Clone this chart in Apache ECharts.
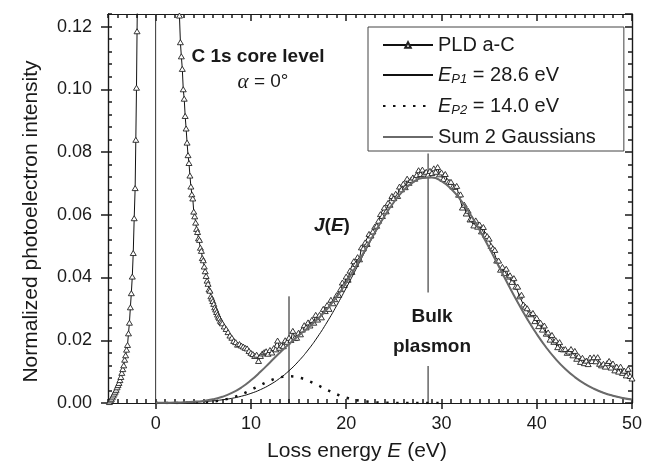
<!DOCTYPE html>
<html><head><meta charset="utf-8">
<script src="https://cdn.jsdelivr.net/npm/echarts@6/dist/echarts.min.js"></script>
<style>html,body{margin:0;padding:0;background:#fff}#c{width:645px;height:475px}</style>
</head><body><div id="c"></div>
<script>
// ---- axis ticks ----
const xMajorTicks = [0, 10, 20, 30, 40, 50];
const xRange = [-5, 50];
const yRange = [0, 0.124];

// ---- measured spectrum PLD a-C: [loss energy (eV), normalized intensity] ----
const pldElasticSide = [
  [-4.85,0.0003],[-4.75,0.0008],[-4.65,0.0012],[-4.55,0.0018],[-4.45,0.0024],[-4.35,0.0030],
  [-4.25,0.0036],[-4.15,0.0042],[-4.05,0.0050],[-3.95,0.0057],[-3.85,0.0064],[-3.75,0.0073],
  [-3.65,0.0083],[-3.55,0.0096],[-3.45,0.0108],[-3.35,0.0120],[-3.25,0.0138],[-3.15,0.0152],
  [-3.05,0.0170],[-2.95,0.0185],[-2.85,0.0222],[-2.75,0.0256],[-2.65,0.0305],[-2.55,0.0350],
  [-2.45,0.0403],[-2.35,0.0478],[-2.25,0.0589],[-2.15,0.0685],[-2.08,0.0839],[-2.01,0.1005],
  [-1.95,0.1185],[-1.88,0.1380]
];
const pldLossSide = [
  [2.4,0.1310],[2.5,0.1235],[2.6,0.1150],[2.7,0.1105],[2.8,0.1065],[2.9,0.1000],[3.0,0.0970],
  [3.1,0.0915],[3.2,0.0875],[3.3,0.0830],[3.4,0.0790],[3.5,0.0765],[3.6,0.0725],[3.7,0.0690],
  [3.8,0.0665],[3.9,0.0652],[4.0,0.0610],[4.1,0.0595],[4.2,0.0575],[4.3,0.0555],[4.4,0.0545],
  [4.5,0.0525],[4.6,0.0520],[4.7,0.0495],[4.8,0.0485],[4.9,0.0462],[5.0,0.0455],[5.1,0.0435],
  [5.2,0.0420],[5.3,0.0405],[5.4,0.0390],[5.5,0.0380],[5.6,0.0362],[5.7,0.0358],[5.8,0.0340],
  [5.9,0.0333],[6.0,0.0325],[6.1,0.0316],[6.2,0.0305],[6.3,0.0298],[6.4,0.0290],[6.5,0.0282],
  [6.6,0.0275],[6.7,0.0270],[6.8,0.0262],[6.9,0.0258],[7.0,0.0254],
  [7.2,0.0244],[7.4,0.0236],[7.6,0.0226],[7.8,0.0215],[8.0,0.0208],[8.2,0.0198],[8.4,0.0194],
  [8.6,0.0186],[8.8,0.0188],[9.0,0.0183],[9.2,0.0180],[9.4,0.0176],[9.6,0.0174],[9.8,0.0166],
  [10.0,0.0160],[10.2,0.0156],[10.4,0.0150],[10.6,0.0154],[10.8,0.0134],[11.0,0.0150],[11.2,0.0158],
  [11.4,0.0162],[11.6,0.0165],[11.8,0.0157],
  [12.0,0.0169],[12.2,0.0161],[12.4,0.0175],[12.6,0.0171],[12.8,0.0199],[13.0,0.0176],[13.2,0.0184],
  [13.4,0.0181],[13.6,0.0200],[13.8,0.0195],[14.0,0.0208],[14.2,0.0201],[14.4,0.0230],[14.6,0.0207],
  [14.8,0.0208],[15.0,0.0224],[15.2,0.0219],[15.4,0.0234],[15.6,0.0248],[15.8,0.0241],[16.0,0.0257],
  [16.2,0.0247],[16.4,0.0265],[16.6,0.0256],[16.8,0.0281],[17.0,0.0266],[17.2,0.0281],[17.4,0.0273],
  [17.6,0.0300],[17.8,0.0293],[18.0,0.0312],[18.2,0.0300],[18.4,0.0329],[18.6,0.0318],[18.8,0.0331],
  [19.0,0.0344],[19.2,0.0345],[19.4,0.0363],[19.6,0.0384],[19.8,0.0376],[20.0,0.0403],[20.2,0.0393],
  [20.4,0.0422],[20.6,0.0418],[20.8,0.0452],[21.0,0.0443],[21.2,0.0465],[21.4,0.0458],[21.6,0.0496],
  [21.8,0.0493],[22.0,0.0512],[22.2,0.0507],[22.4,0.0539],[22.6,0.0534],[22.8,0.0547],[23.0,0.0562],
  [23.2,0.0565],[23.4,0.0581],[23.6,0.0602],[23.8,0.0596],[24.0,0.0623],[24.2,0.0611],[24.4,0.0638],
  [24.6,0.0632],[24.8,0.0660],[25.0,0.0653],[25.2,0.0667],[25.4,0.0660],[25.6,0.0690],[25.8,0.0681],
  [26.0,0.0699],[26.2,0.0688],[26.4,0.0715],[26.6,0.0702],[26.8,0.0711],[27.0,0.0719],[27.2,0.0715],
  [27.4,0.0727],[27.6,0.0742],[27.8,0.0730],[28.0,0.0744],[28.2,0.0731],[28.4,0.0737],[28.6,0.0728],
  [28.8,0.0740],[29.0,0.0733],[29.2,0.0748],[29.4,0.0737],[29.6,0.0752],[29.8,0.0729],[30.0,0.0735],
  [30.2,0.0714],[30.4,0.0730],[30.6,0.0708],[30.8,0.0705],[31.0,0.0705],[31.2,0.0690],[31.4,0.0689],
  [31.6,0.0692],[31.8,0.0664],[32.0,0.0665],[32.2,0.0623],[32.4,0.0632],[32.6,0.0604],[32.8,0.0613],
  [33.0,0.0585],[33.2,0.0587],[33.4,0.0566],[33.6,0.0582],[33.8,0.0562],[34.0,0.0569],[34.2,0.0547],
  [34.4,0.0561],[34.6,0.0537],[34.8,0.0532],[35.0,0.0524],[35.2,0.0501],[35.4,0.0493],[35.6,0.0488],
  [35.8,0.0454],[36.0,0.0454],[36.2,0.0425],[36.4,0.0434],[36.6,0.0414],[36.8,0.0428],[37.0,0.0403],
  [37.2,0.0407],[37.4,0.0386],[37.6,0.0398],[37.8,0.0371],[38.0,0.0371],[38.2,0.0340],[38.4,0.0345],
  [38.6,0.0314],[38.8,0.0307],[39.0,0.0302],[39.2,0.0285],[39.4,0.0283],[39.6,0.0287],[39.8,0.0261],
  [40.0,0.0271],[40.2,0.0245],[40.4,0.0256],[40.6,0.0234],[40.8,0.0247],[41.0,0.0221],[41.2,0.0225],
  [41.4,0.0202],[41.6,0.0217],[41.8,0.0195],[42.0,0.0200],[42.2,0.0178],[42.4,0.0194],[42.6,0.0172],
  [42.8,0.0171],[43.0,0.0172],[43.2,0.0160],[43.4,0.0164],[43.6,0.0172],[43.8,0.0152],[44.0,0.0166],
  [44.2,0.0141],[44.4,0.0149],[44.6,0.0131],[44.8,0.0144],[45.0,0.0127],[45.2,0.0135],[45.4,0.0124],
  [45.6,0.0145],[45.8,0.0134],[46.0,0.0146],[46.2,0.0133],[46.4,0.0146],[46.6,0.0125],[46.8,0.0120],
  [47.0,0.0125],[47.2,0.0116],[47.4,0.0127],[47.6,0.0134],[47.8,0.0113],[48.0,0.0126],[48.2,0.0104],
  [48.4,0.0116],[48.6,0.0100],[48.8,0.0116],[49.0,0.0096],[49.2,0.0103],[49.4,0.0088],[49.6,0.0109],
  [49.8,0.0086],[50.0,0.0078]
];

// ---- fitted Gaussians ----
const fitE = [0,1,2,3,4,5,6,7,8,9,10,11,12,13,14,15,16,17,18,19,20,21,22,23,24,25,26,27,28,29,30,
  31,32,33,34,35,36,37,38,39,40,41,42,43,44,45,46,47,48,49,50];
const ep1Fit = [0.00004,0.00007,0.00011,0.00018,0.00029,0.00045,0.00068,0.00102,0.00149,0.00216,
  0.00306,0.00426,0.00582,0.00781,0.01028,0.01331,0.01690,0.02107,0.02581,0.03104,0.03665,0.04249,
  0.04838,0.05407,0.05935,0.06397,0.06769,0.07034,0.07176,0.07190,0.07072,0.06831,0.06479,0.06033,
  0.05517,0.04953,0.04367,0.03780,0.03213,0.02682,0.02198,0.01769,0.01397,0.01084,0.00826,0.00618,
  0.00454,0.00327,0.00232,0.00161,0.00110];
const ep2E = [0,1,2,3,4,5,6,7,8,9,10,11,12,13,14,15,16,17,18,19,20,21,22,23,24,25,26,27,28,29,30];
const ep2Fit = [0,0,0.00001,0.00004,0.00010,0.00023,0.00049,0.00095,0.00170,0.00278,0.00416,
  0.00569,0.00711,0.00813,0.00850,0.00813,0.00711,0.00569,0.00416,0.00278,0.00170,0.00095,0.00049,
  0.00023,0.00010,0.00004,0.00001,0,0,0,0];
const sumFit = [0.00004,0.00007,0.00013,0.00022,0.00039,0.00067,0.00117,0.00197,0.00320,0.00494,
  0.00722,0.00995,0.01293,0.01594,0.01878,0.02143,0.02401,0.02676,0.02997,0.03382,0.03835,0.04345,
  0.04887,0.05430,0.05945,0.06400,0.06770,0.07034,0.07176,0.07190,0.07072,0.06831,0.06479,0.06033,
  0.05517,0.04953,0.04367,0.03780,0.03213,0.02682,0.02198,0.01769,0.01397,0.01084,0.00826,0.00618,
  0.00454,0.00327,0.00232,0.00161,0.00110];

// ---- vertical marker lines [E, intensity] ----
const zeroLossLine = [[0, 0], [0, 0.124]];
const ep2Line = [[14, 0], [14, 0.034]];
const plasmonLineLow = [[28.6, 0], [28.6, 0.0118]];
const plasmonLineHigh = [[28.6, 0.0352], [28.6, 0.0795]];

const FONT = 'Liberation Sans, Arial, sans-serif';
const TXT = '#1a1a1a';
const AX = '#1a1a1a';
const zip = (xs, ys) => xs.map((x, i) => [x, ys[i]]);

const chart = echarts.init(document.getElementById('c'), null, {renderer: 'canvas'});

const axisLineStyle = {show: true, onZero: false, lineStyle: {color: AX, width: 1.2}};
function xAxisDef(pos, major, inside, len, withLabels) {
  const a = {
    type: 'value', position: pos, min: xRange[0], max: xRange[1],
    axisLine: axisLineStyle,
    splitLine: {show: false},
    axisTick: {show: true, inside: inside, length: len, lineStyle: {color: AX, width: 1.5}},
    axisLabel: {show: false}
  };
  if (major) {
    a.axisTick.customValues = xMajorTicks;
  } else {
    a.interval = 1;
  }
  if (withLabels) {
    a.axisLabel = {show: true, customValues: xMajorTicks, margin: 12, fontSize: 18, fontFamily: FONT, color: TXT};
  }
  return a;
}
function yAxisDef(pos, major, inside, len, withLabels) {
  return {
    type: 'value', position: pos, min: yRange[0], max: yRange[1],
    interval: major ? 0.02 : 0.004,
    axisLine: axisLineStyle,
    splitLine: {show: false},
    axisTick: {show: true, inside: inside, length: len, lineStyle: {color: AX, width: 1.5}},
    axisLabel: withLabels ? {show: true, margin: 16, fontSize: 18, fontFamily: FONT, color: TXT,
                             showMaxLabel: false, formatter: v => v.toFixed(2)} : {show: false}
  };
}

const xMain = xAxisDef('bottom', true, false, 6, true);
xMain.name = 'Loss energy {i|E} (eV)';
xMain.nameLocation = 'middle';
xMain.nameGap = 38;
xMain.nameTextStyle = {fontSize: 21, fontFamily: FONT, color: TXT, padding: [0, 26, 0, 0],
  rich: {i: {fontStyle: 'italic', fontSize: 21, fontFamily: FONT, color: TXT}}};

const yMain = yAxisDef('left', true, false, 7, true);
yMain.name = 'Normalized photoelectron intensity';
yMain.nameLocation = 'middle';
yMain.nameGap = 66;
yMain.nameTextStyle = {fontSize: 21, fontFamily: FONT, color: TXT, padding: [0, 26, 0, 0]};

const legendNames = {
  'PLD a-C': 'PLD a-C',
  'EP1': '{i|E}{s|P1} = 28.6 eV',
  'EP2': '{i|E}{s|P2} = 14.0 eV',
  'Sum 2 Gaussians': 'Sum 2 Gaussians'
};
const hiddenSymbol = {opacity: 0};

const option = {
  backgroundColor: '#fff',
  animation: false,
  grid: {left: 108, right: 9, top: 14, bottom: 72},
  xAxis: [
    xMain,
    xAxisDef('bottom', false, true, 4, false),
    xAxisDef('top', true, true, 7, false),
    xAxisDef('top', false, true, 4, false)
  ],
  yAxis: [
    yMain,
    yAxisDef('left', false, true, 4, false),
    yAxisDef('right', true, true, 7, false),
    yAxisDef('right', false, true, 4, false)
  ],
  legend: {
    orient: 'vertical', left: 368, top: 27,
    data: [
      {name: 'PLD a-C'},
      {name: 'EP1', itemStyle: hiddenSymbol},
      {name: 'EP2', itemStyle: hiddenSymbol},
      {name: 'Sum 2 Gaussians', itemStyle: hiddenSymbol}
    ],
    itemWidth: 50, itemHeight: 7, itemGap: 10,
    padding: [8, 28, 4, 14],
    borderColor: '#444', borderWidth: 1, backgroundColor: '#fff',
    selectedMode: false,
    formatter: n => legendNames[n],
    textStyle: {
      fontSize: 20, fontFamily: FONT, color: TXT,
      rich: {
        i: {fontSize: 20, fontFamily: FONT, color: TXT, fontStyle: 'italic'},
        s: {fontSize: 13, fontFamily: FONT, color: TXT, fontStyle: 'italic', padding: [9, 0, 0, 0]}
      }
    }
  },
  graphic: [
    {type: 'text', x: 258, y: 57, style: {text: 'C 1s core level', font: 'bold 19px ' + FONT, fill: TXT, textAlign: 'center', textVerticalAlign: 'middle'}},
    {type: 'text', x: 263, y: 82, style: {text: '{a|α} = 0°', font: '19px ' + FONT, fill: TXT, textAlign: 'center', textVerticalAlign: 'middle',
      rich: {a: {font: 'italic 21px "Liberation Serif", "DejaVu Serif", serif', fill: TXT}}}},
    {type: 'text', x: 332, y: 226, style: {text: '{j|J}({j|E})', font: 'bold 19px ' + FONT, fill: TXT, textAlign: 'center', textVerticalAlign: 'middle',
      rich: {j: {font: 'italic bold 19px ' + FONT, fill: TXT}}}},
    {type: 'text', x: 432, y: 317, style: {text: 'Bulk', font: 'bold 19px ' + FONT, fill: TXT, textAlign: 'center', textVerticalAlign: 'middle'}},
    {type: 'text', x: 432, y: 347, style: {text: 'plasmon', font: 'bold 19px ' + FONT, fill: TXT, textAlign: 'center', textVerticalAlign: 'middle'}}
  ],
  series: [
    {name: 'zero', type: 'line', data: zeroLossLine, symbol: 'none', lineStyle: {color: '#333', width: 1}, z: 1},
    {name: 'ep2mark', type: 'line', data: ep2Line, symbol: 'none', lineStyle: {color: '#111', width: 1}, z: 1},
    {name: 'plLow', type: 'line', data: plasmonLineLow, symbol: 'none', lineStyle: {color: '#666', width: 1.5}, z: 1},
    {name: 'plHigh', type: 'line', data: plasmonLineHigh, symbol: 'none', lineStyle: {color: '#666', width: 1.5}, z: 1},
    {name: 'PLD a-C', type: 'line', data: pldElasticSide.concat(pldLossSide),
      symbol: 'triangle', symbolSize: [6, 5], showAllSymbol: true,
      itemStyle: {color: '#fff', borderColor: '#222', borderWidth: 0.9},
      lineStyle: {color: '#111', width: 1}, z: 2},
    {name: 'EP1', type: 'line', data: zip(fitE, ep1Fit), smooth: true, symbol: 'none',
      lineStyle: {color: '#111', width: 1}, itemStyle: {color: '#111'}, z: 3},
    {name: 'EP2', type: 'line', data: zip(ep2E, ep2Fit), smooth: true, symbol: 'none',
      lineStyle: {color: '#111', width: 2.5, type: [2.5, 7.5]}, itemStyle: {color: '#111'}, z: 3},
    {name: 'Sum 2 Gaussians', type: 'line', data: zip(fitE, sumFit), smooth: true, symbol: 'none',
      lineStyle: {color: '#6a6a6a', width: 2}, itemStyle: {color: '#6a6a6a'}, z: 3}
  ]
};
chart.setOption(option);
</script></body></html>
